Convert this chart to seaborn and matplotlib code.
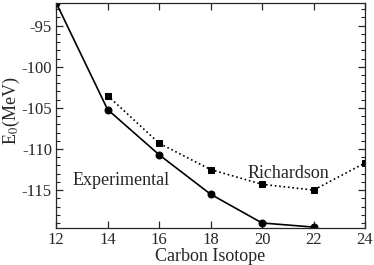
import matplotlib
matplotlib.use("Agg")
import matplotlib.pyplot as plt
import seaborn as sns
import pandas as pd
from matplotlib.ticker import MultipleLocator

exp_x = [12, 14, 16, 18, 20, 22]
exp_y = [-92.2, -105.2, -110.7, -115.5, -119.0, -119.5]
rich_x = [14, 16, 18, 20, 22, 24]
rich_y = [-103.5, -109.3, -112.5, -114.3, -115.0, -111.7]

sns.set_style("ticks")
plt.rcParams['font.family'] = ['Liberation Serif', 'DejaVu Serif']
plt.rcParams['mathtext.fontset'] = 'stix'

fig, ax = plt.subplots(figsize=(3.74, 2.65), dpi=100)
fig.subplots_adjust(left=0.15, right=0.976, top=0.99, bottom=0.14)

df_e = pd.DataFrame({"x": exp_x, "y": exp_y})
df_r = pd.DataFrame({"x": rich_x, "y": rich_y})
sns.lineplot(data=df_e, x="x", y="y", ax=ax, color="black", lw=1.2,
             marker="o", markersize=5, markeredgecolor="black")
sns.lineplot(data=df_r, x="x", y="y", ax=ax, color="black", lw=1.2,
             linestyle=":", marker="s", markersize=4, markeredgecolor="black")

ax.set_xlim(12, 24)
ax.set_ylim(-119.6, -92.2)
ax.set_xticks([12, 14, 16, 18, 20, 22, 24])
ax.set_yticks([-95, -100, -105, -110, -115])
ax.set_yticklabels(["-95", "-100", "-105", "-110", "-115"])
ax.yaxis.set_minor_locator(MultipleLocator(1))
ax.tick_params(which="both", direction="in", top=True, right=True, labelsize=12)
ax.tick_params(which="major", length=5, width=0.9, pad=3)
ax.tick_params(which="minor", length=3, width=0.8)
for s in ax.spines.values():
    s.set_linewidth(0.9)
ax.set_xlabel("Carbon Isotope", fontsize=13, labelpad=0)
ax.set_ylabel("E$_0$(MeV)", fontsize=13)
ax.yaxis.set_label_coords(-0.112, 0.52)
ax.text(12.65, -113.8, "Experimental", fontsize=13, va="center", ha="left")
ax.text(19.45, -113.0, "Richardson", fontsize=13, va="center", ha="left")

fig.savefig("out.png", dpi=100)
